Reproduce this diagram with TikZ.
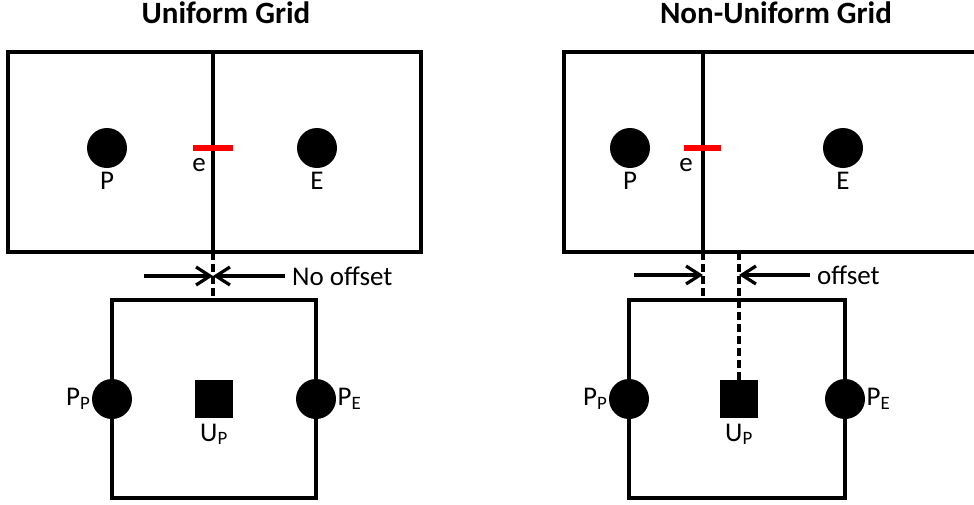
\documentclass[tikz,border=0pt]{standalone}
\usepackage{fontspec}
\setmainfont{Carlito}
\usetikzlibrary{arrows.meta,positioning}

\begin{document}
\begin{tikzpicture}[
  x=1pt, y=-1pt,
  every node/.style={font=\fontsize{27}{31}\selectfont},
  title/.style={font=\bfseries\fontsize{31}{35}\selectfont},
  cellline/.style={line width=4pt},
  boxline/.style={line width=3.6pt},
  dot/.style={circle, fill=black, inner sep=0pt, minimum size=40pt},
  vel/.style={rectangle, fill=black, inner sep=0pt, minimum size=38pt},
  face/.style={draw=red, line width=6pt},
  dashline/.style={line width=3.6pt, dash pattern=on 8pt off 4pt},
  arr/.style={-{Straight Barb[length=14pt, width=18pt]}, line width=3.2pt},
]
  \useasboundingbox (0,0) rectangle (974,504);

  % Left: uniform grid
  \node[title] (ttlU) at (226,13) {Uniform Grid};
  \draw[cellline] (8,52) rectangle (421,252);
  \draw[cellline] (213,52) -- (213,252);
  \coordinate (lface) at (213,252);
  \coordinate (lfaceL) at (193,148);
  \coordinate (lfaceR) at (233,148);
  \draw[face] (lfaceL) -- (lfaceR);
  \node at (199,165) {e};
  \node[dot] (lP) at (107,148) {};
  \node[dot] (lE) at (317,148) {};
  \node[below=0pt of lP] {P};
  \node[below=0pt of lE] {E};

  \draw[boxline] (112,300) rectangle (316,498);
  \coordinate (lvtop) at (213,298);
  \draw[dashline] (lface) -- (lvtop);
  \node[dot] (lPP) at (112,399) {};
  \node[dot] (lPE) at (316,399) {};
  \node[vel] (lU) at (214,399) {};
  \node[left=-2pt of lPP] {P\textsubscript{P}};
  \node[right=-2pt of lPE] {P\textsubscript{E}};
  \node[below=2pt of lU] {U\textsubscript{P}};

  \coordinate (lmark) at (213,276);
  \coordinate (lfromL) at (144,276);
  \node[anchor=west, inner sep=0pt] (noff) at (292,276) {No offset};
  \draw[arr] (lfromL) -- (lmark);
  \draw[arr] (noff.west) ++(-7,0) -- (lmark);

  % Right: non-uniform grid
  \node[title] (ttlN) at (776,13) {Non-Uniform Grid};
  \draw[cellline] (976,52) -- (564,52) -- (564,252) -- (976,252);
  \draw[cellline] (703,52) -- (703,252);
  \coordinate (rface) at (703,252);
  \coordinate (rfaceL) at (684,148);
  \coordinate (rfaceR) at (721,148);
  \draw[face] (rfaceL) -- (rfaceR);
  \node at (686,165) {e};
  \node[dot] (rP) at (630,148) {};
  \node[dot] (rE) at (843,148) {};
  \node[below=0pt of rP] {P};
  \node[below=0pt of rE] {E};

  \draw[boxline] (629,300) rectangle (845,498);
  \node[dot] (rPP) at (629,399) {};
  \node[dot] (rPE) at (845,399) {};
  \node[vel] (rU) at (739,399) {};
  \node[left=-2pt of rPP] {P\textsubscript{P}};
  \node[right=-2pt of rPE] {P\textsubscript{E}};
  \node[below=2pt of rU] {U\textsubscript{P}};
  \coordinate (rvtop) at (703,298);
  \coordinate (rctop) at (739,252);
  \draw[dashline] (rface) -- (rvtop);
  \draw[dashline] (rctop) -- (rU.north);

  \coordinate (rmarkL) at (703,275);
  \coordinate (rmarkR) at (739,275);
  \coordinate (rfromL) at (634,275);
  \node[anchor=west, inner sep=0pt] (off) at (817,275) {offset};
  \draw[arr] (rfromL) -- (rmarkL);
  \draw[arr] (off.west) ++(-7,0) -- (rmarkR);
\end{tikzpicture}
\end{document}
